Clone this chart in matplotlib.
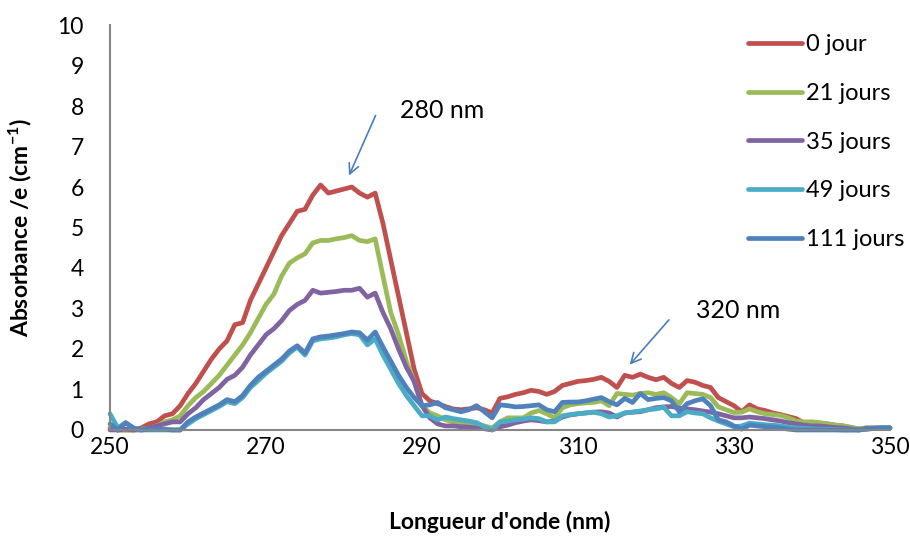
import matplotlib
matplotlib.use("Agg")
import matplotlib.pyplot as plt
import numpy as np

plt.rcParams['font.family'] = ['Lato', 'DejaVu Sans']
plt.rcParams['mathtext.fontset'] = 'custom'
plt.rcParams['mathtext.rm'] = 'Lato'
plt.rcParams['mathtext.bf'] = 'Lato:bold'
plt.rcParams['mathtext.default'] = 'bf'

wavelength = list(range(250, 351))

abs_0 = [0.05, 0.0, 0.0, 0.0, 0.05, 0.15, 0.2, 0.35, 0.4, 0.6,
         0.9, 1.15, 1.45, 1.75, 2.0, 2.2, 2.6, 2.65, 3.2, 3.6,
         4.0, 4.4, 4.8, 5.1, 5.4, 5.45, 5.8, 6.05, 5.85, 5.9,
         5.95, 6.0, 5.85, 5.75, 5.85, 5.1, 4.2, 3.3, 2.4, 1.5,
         0.9, 0.72, 0.65, 0.58, 0.52, 0.5, 0.52, 0.55, 0.5, 0.42,
         0.78, 0.82, 0.88, 0.92, 0.98, 0.95, 0.88, 0.95, 1.1, 1.15,
         1.2, 1.22, 1.25, 1.3, 1.2, 1.05, 1.35, 1.3, 1.38, 1.3,
         1.24, 1.3, 1.15, 1.05, 1.22, 1.18, 1.1, 1.05, 0.8, 0.7,
         0.6, 0.45, 0.62, 0.52, 0.48, 0.42, 0.38, 0.33, 0.28, 0.17,
         0.17, 0.17, 0.15, 0.12, 0.1, 0.06, 0.02, 0.05, 0.04, 0.05,
         0.05]

abs_21 = [0.05, 0.0, 0.0, 0.0, 0.02, 0.05, 0.1, 0.2, 0.25, 0.35,
          0.6, 0.8, 0.95, 1.15, 1.35, 1.6, 1.85, 2.1, 2.4, 2.75,
          3.1, 3.35, 3.8, 4.12, 4.25, 4.35, 4.62, 4.68, 4.68, 4.72,
          4.75, 4.8, 4.68, 4.65, 4.72, 3.8, 2.9, 2.35, 1.7, 1.2,
          0.6, 0.42, 0.35, 0.25, 0.2, 0.18, 0.15, 0.15, 0.1, 0.05,
          0.2, 0.3, 0.3, 0.3, 0.42, 0.48, 0.4, 0.3, 0.55, 0.62,
          0.65, 0.67, 0.68, 0.72, 0.6, 0.9, 0.88, 0.86, 0.9, 0.92,
          0.88, 0.92, 0.8, 0.65, 0.92, 0.9, 0.88, 0.8, 0.57, 0.5,
          0.43, 0.44, 0.52, 0.45, 0.4, 0.38, 0.36, 0.3, 0.22, 0.2,
          0.2, 0.18, 0.15, 0.12, 0.1, 0.07, 0.03, 0.05, 0.05, 0.05,
          0.05]

abs_35 = [0.0, 0.0, 0.02, 0.0, 0.0, 0.05, 0.1, 0.15, 0.2, 0.2,
          0.4, 0.55, 0.75, 0.9, 1.05, 1.25, 1.35, 1.55, 1.85, 2.1,
          2.35, 2.5, 2.7, 2.95, 3.1, 3.2, 3.45, 3.38, 3.4, 3.42,
          3.45, 3.45, 3.5, 3.28, 3.38, 2.9, 2.5, 2.0, 1.55, 1.2,
          0.6, 0.3, 0.15, 0.1, 0.1, 0.08, 0.07, 0.05, 0.03, 0.0,
          0.08, 0.12, 0.18, 0.22, 0.25, 0.23, 0.2, 0.22, 0.32, 0.37,
          0.4, 0.42, 0.44, 0.45, 0.42, 0.32, 0.42, 0.44, 0.45, 0.5,
          0.55, 0.57, 0.58, 0.54, 0.52, 0.5, 0.47, 0.44, 0.4, 0.35,
          0.3, 0.3, 0.32, 0.3, 0.28, 0.25, 0.22, 0.18, 0.15, 0.12,
          0.1, 0.1, 0.08, 0.06, 0.05, 0.03, 0.0, 0.04, 0.05, 0.05,
          0.05]

abs_49 = [0.4, 0.05, 0.18, 0.05, 0.0, 0.0, 0.0, 0.0, 0.0, 0.0,
          0.15, 0.28, 0.38, 0.48, 0.58, 0.7, 0.65, 0.8, 1.05, 1.22,
          1.4, 1.55, 1.7, 1.9, 2.05, 1.85, 2.2, 2.25, 2.27, 2.3,
          2.35, 2.38, 2.35, 2.1, 2.25, 1.85, 1.5, 1.15, 0.85, 0.6,
          0.35, 0.35, 0.25, 0.32, 0.28, 0.25, 0.22, 0.18, 0.08, 0.0,
          0.2, 0.22, 0.25, 0.27, 0.3, 0.28, 0.2, 0.2, 0.35, 0.38,
          0.4, 0.42, 0.44, 0.4, 0.32, 0.35, 0.42, 0.44, 0.47, 0.5,
          0.52, 0.56, 0.35, 0.35, 0.45, 0.42, 0.4, 0.3, 0.22, 0.15,
          0.08, 0.1, 0.17, 0.15, 0.13, 0.12, 0.1, 0.07, 0.05, 0.04,
          0.03, 0.02, 0.02, 0.01, 0.0, 0.0, 0.0, 0.02, 0.04, 0.05,
          0.05]

abs_111 = [0.15, 0.0, 0.18, 0.05, 0.0, 0.02, 0.02, 0.02, 0.0, 0.0,
           0.2, 0.32, 0.42, 0.52, 0.62, 0.75, 0.7, 0.85, 1.1, 1.3,
           1.45, 1.6, 1.75, 1.95, 2.08, 1.9, 2.25, 2.3, 2.32, 2.35,
           2.38, 2.42, 2.4, 2.22, 2.42, 2.05, 1.7, 1.35, 1.05, 0.8,
           0.6, 0.62, 0.68, 0.55, 0.5, 0.45, 0.5, 0.6, 0.45, 0.3,
           0.62, 0.6, 0.57, 0.58, 0.6, 0.62, 0.5, 0.45, 0.68, 0.69,
           0.69, 0.72, 0.76, 0.8, 0.7, 0.62, 0.78, 0.68, 0.9, 0.75,
           0.78, 0.8, 0.72, 0.45, 0.65, 0.72, 0.77, 0.6, 0.25, 0.2,
           0.1, 0.02, 0.12, 0.1, 0.08, 0.07, 0.05, 0.02, 0.0, 0.0,
           0.0, 0.0, 0.0, 0.0, 0.0, 0.0, 0.0, 0.02, 0.04, 0.05,
           0.05]

series_labels = ["0 jour", "21 jours", "35 jours", "49 jours", "111 jours"]
series_values = [abs_0, abs_21, abs_35, abs_49, abs_111]
colors = ["#C0504D", "#9BBB59", "#8064A2", "#4BACC6", "#4F81BD"]

x_ticks = [250, 270, 290, 310, 330, 350]
y_ticks = list(range(0, 11))

fig = plt.figure(figsize=(9.1, 5.36), dpi=100)
ax = fig.add_axes([0.1209, 0.1978, 0.857, 0.7555])

for lab, vals, c in zip(series_labels, series_values, colors):
    ax.plot(wavelength, vals, color=c, lw=3.4, label=lab,
            solid_joinstyle='round', solid_capstyle='round', clip_on=False)

ax.set_xlim(250, 350)
ax.set_ylim(0, 10)
ax.set_xticks(x_ticks)
ax.set_yticks(y_ticks)
ax.tick_params(axis='both', length=0, labelsize=16.5, colors='black')
ax.tick_params(axis='y', pad=19)
ax.tick_params(axis='x', pad=5)
for s in ['top', 'right']:
    ax.spines[s].set_visible(False)
for s in ['left', 'bottom']:
    ax.spines[s].set_color('#868686')
    ax.spines[s].set_linewidth(1.5)

ax.set_xlabel("Longueur d'onde (nm)", fontsize=16.5, fontweight='bold', labelpad=38)
ax.set_ylabel("Absorbance /e (cm$^{-1}$)", fontsize=16.5, fontweight='bold', labelpad=17)

arrow_color = "#4A7EBB"
ax.annotate("", xy=(280.5, 6.22), xytext=(284.2, 7.83),
            arrowprops=dict(arrowstyle="->", color=arrow_color, lw=1.2,
                            mutation_scale=18))
ax.text(287.2, 7.9, "280 nm", fontsize=18, va='center', ha='left')
ax.annotate("", xy=(316.4, 1.56), xytext=(321.9, 2.77),
            arrowprops=dict(arrowstyle="->", color=arrow_color, lw=1.2,
                            mutation_scale=18))
ax.text(325.1, 2.96, "320 nm", fontsize=18, va='center', ha='left')

leg = ax.legend(loc='upper left', bbox_to_anchor=(0.8, 1.012), frameon=False,
                fontsize=17, handlelength=2.3, handletextpad=0.17,
                labelspacing=1.17, borderaxespad=0.2)

fig.savefig("out.png", dpi=100)
